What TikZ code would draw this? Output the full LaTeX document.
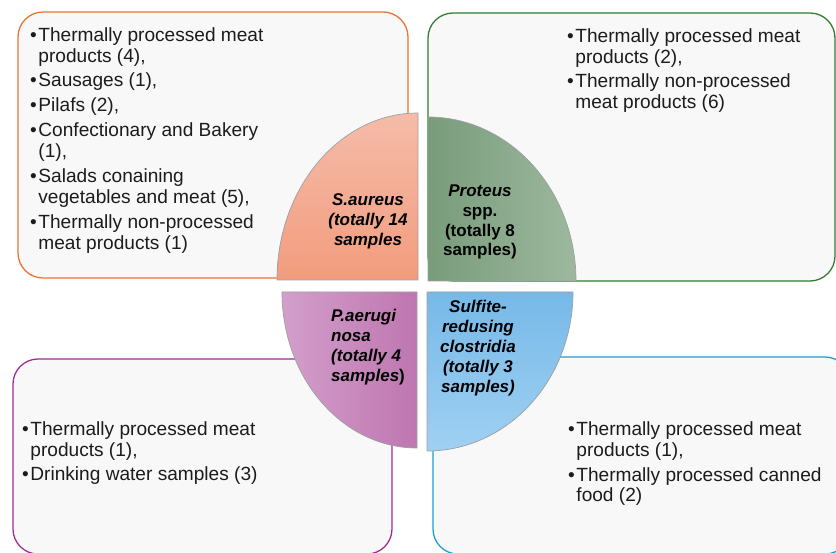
\documentclass[tikz,border=0pt]{standalone}
\usepackage{fontspec}
\setmainfont{Liberation Sans}

\definecolor{boxgray}{HTML}{F8F8F8}
\definecolor{textgray}{HTML}{1C1C1C}
\definecolor{orangeline}{HTML}{E97132}
\definecolor{greenline}{HTML}{2E7D32}
\definecolor{purpleline}{HTML}{A02B93}
\definecolor{blueline}{HTML}{1C9FD6}

\newcommand{\bul}{\makebox[7pt][l]{•}}
\newcommand{\cnt}{\hspace*{7pt}}

\tikzset{
  listbox/.style={rounded corners=0.75cm, line width=1.1pt, fill=boxgray},
  quarter/.style={draw=gray!75, line width=0.6pt},
  itemtext/.style={anchor=north west, align=left, inner sep=0pt, text=textgray,
    font=\fontsize{16.3}{17.9}\selectfont},
  bugtext/.style={align=center, inner sep=0pt,
    font=\fontsize{14.5}{17}\selectfont\bfseries\itshape}
}

\begin{document}
\begin{tikzpicture}[x=0.03cm, y=0.03cm]
    \useasboundingbox (0,0) rectangle (836,552);

    % the four lists
    \draw[listbox, draw=orangeline] (18,274) rectangle (408,540);
    \draw[listbox, draw=greenline] (428,271) rectangle (835,539);
    \draw[listbox, draw=purpleline] (13,-2) rectangle (392,193);
    \draw[listbox, draw=blueline] (433,-2) rectangle (850,195);

    \node[itemtext] (saureuslist) at (30,525) {\bul Thermally processed meat\\ \cnt products (4),\\[3.4pt]
        \bul Sausages (1),\\[3.4pt]
        \bul Pilafs (2),\\[3.4pt]
        \bul Confectionary and Bakery\\ \cnt (1),\\[3.4pt]
        \bul Salads conaining\\ \cnt vegetables and meat (5),\\[3.4pt]
        \bul Thermally non-processed\\ \cnt meat products (1)};
    \node[itemtext] (proteuslist) at (567,524) {\bul Thermally processed meat\\ \cnt products (2),\\[3.4pt]
        \bul Thermally non-processed\\ \cnt meat products (6)};
    \node[itemtext] (paeruglist) at (22,131) {\bul Thermally processed meat\\ \cnt products (1),\\[3.4pt]
        \bul Drinking water samples (3)};
    \node[itemtext] (clostrlist) at (568,131) {\bul Thermally processed meat\\ \cnt products (1),\\[3.4pt]
        \bul Thermally processed canned\\ \cnt food (2)};

    % the four quarters
    \draw[quarter, top color={rgb,255:red,245;green,188;blue,169}, bottom color={rgb,255:red,242;green,156;blue,126}]
        (418,272) -- (277,272) arc[start angle=180, end angle=90, x radius=141, y radius=167] -- cycle;
    \draw[quarter, left color={rgb,255:red,120;green,156;blue,122}, right color={rgb,255:red,157;green,184;blue,159}]
        (428,271) -- (576,271) arc[start angle=0, end angle=90, x radius=148, y radius=164] -- cycle;
    \draw[quarter, left color={rgb,255:red,211;green,159;blue,203}, right color={rgb,255:red,190;green,118;blue,176}]
        (417,260) -- (282,260) arc[start angle=180, end angle=270, x radius=135, y radius=156] -- cycle;
    \draw[quarter, top color={rgb,255:red,118;green,185;blue,232}, bottom color={rgb,255:red,160;green,208;blue,242}]
        (427,260) -- (573,260) arc[start angle=0, end angle=-90, x radius=146, y radius=159] -- cycle;

    \node[bugtext] (saureus) at (368,331) {S.aureus\\(totally 14\\samples};
    \node[bugtext, font=\fontsize{14.5}{17}\selectfont\bfseries] (proteus) at (480,330) {\itshape Proteus\\spp.\\(totally 8\\samples)};
    \node[bugtext, anchor=west, align=left] (paerug) at (331,205) {P.aerugi\\nosa\\(totally 4\\samples{\upshape)}};
    \node[bugtext] (clostr) at (478,204) {Sulfite-\\redusing\\clostridia\\(totally 3\\samples)};
\end{tikzpicture}
\end{document}
